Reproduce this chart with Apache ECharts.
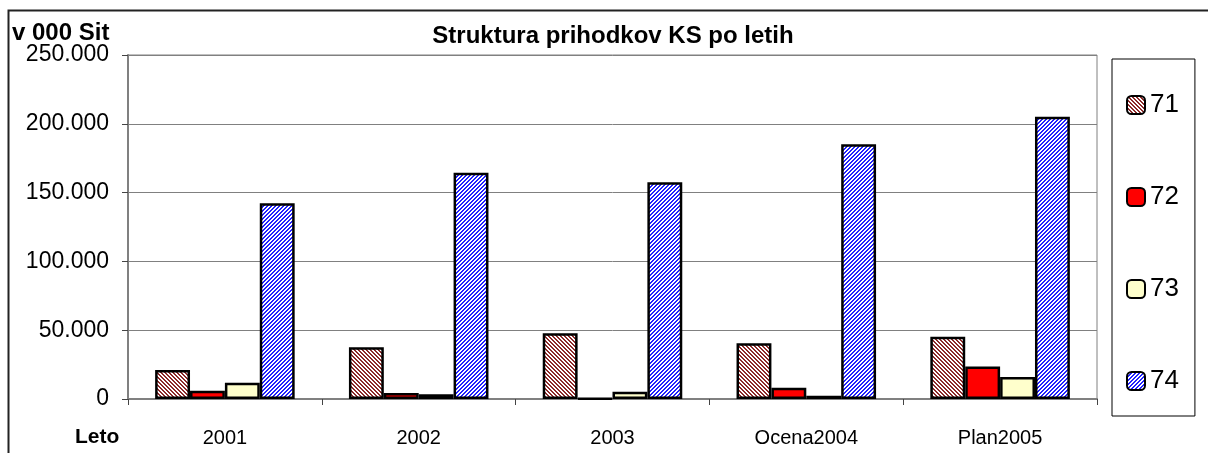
<!DOCTYPE html>
<html><head><meta charset="utf-8">
<script src="https://cdn.jsdelivr.net/npm/echarts@6/dist/echarts.min.js"></script>
<style>html,body{margin:0;padding:0;background:#fff}#c{width:1208px;height:453px}</style>
</head><body><div id="c"></div>
<script>
var categories = ['2001', '2002', '2003', 'Ocena2004', 'Plan2005'];
var seriesNames = ['71', '72', '73', '74'];
var s71 = [21000, 37600, 47700, 40500, 45300];
var s72 = [6000, 4400, 500, 8200, 23700];
var s73 = [11800, 3400, 5300, 2400, 16000];
var s74 = [142200, 164500, 157500, 185100, 205200];
var yTicks = [0, 50000, 100000, 150000, 200000, 250000];

function stripes(color, dir) {
  var c = document.createElement('canvas');
  c.width = 8; c.height = 8;
  var ctx = c.getContext('2d');
  ctx.fillStyle = '#ffffff'; ctx.fillRect(0, 0, 8, 8);
  ctx.fillStyle = color;
  for (var x = 0; x < 8; x++) for (var y = 0; y < 8; y++) {
    var k = dir > 0 ? (x + y) % 4 : ((x - y) % 4 + 4) % 4;
    if (k < 2) ctx.fillRect(x, y, 1, 1);
  }
  return { image: c, repeat: 'repeat' };
}
var fills = [stripes('#8c2a2a', -1), '#ff0000', '#ffffcc', stripes('#2222ff', 1)];
var data = [s71, s72, s73, s74];

function fmt(v) { return String(v).replace(/\B(?=(\d{3})+(?!\d))/g, '.'); }

var chart = echarts.init(document.getElementById('c'), null, { renderer: 'canvas' });
var font = '"Liberation Sans", Arial, sans-serif';
chart.setOption({
  animation: false,
  textStyle: { fontFamily: font },
  title: {
    text: 'Struktura prihodkov KS po letih', left: 608, top: 19, textAlign: 'center',
    textStyle: { fontFamily: font, fontWeight: 'bold', fontSize: 24, color: '#000' }
  },
  graphic: [
    { type: 'rect', shape: { x: 8.5, y: 10.5, width: 1300, height: 600 }, style: { fill: 'none', stroke: '#222', lineWidth: 2 }, silent: true },
    { type: 'text', left: 75, top: 427, style: { text: 'Leto', font: 'bold 21px ' + font, fill: '#000' } },
    { type: 'text', left: 12, top: 21, style: { text: 'v 000 Sit', font: 'bold 24px ' + font, fill: '#000' } }
  ],
  legend: {
    orient: 'vertical', left: 1112, top: 59,
    padding: [31, 16, 20, 14],
    borderColor: '#000', borderWidth: 1,
    itemWidth: 18, itemHeight: 18, itemGap: 62, itemTextGap: 12,
    textStyle: { fontSize: 26, color: '#000', fontFamily: font, lineHeight: 30 },
    data: seriesNames
  },
  grid: { left: 128, right: 111, top: 55, bottom: 54, show: true, borderColor: '#808080', borderWidth: 1, containLabel: false },
  xAxis: {
    type: 'category', data: categories,
    axisLine: { lineStyle: { color: '#808080', width: 2 } },
    axisTick: { show: true, length: 6, lineStyle: { color: '#444' } },
    axisLabel: { fontSize: 20, color: '#000', margin: 29, fontFamily: font }
  },
  yAxis: {
    type: 'value', min: 0, max: 250000, interval: 50000,
    axisLine: { show: true, lineStyle: { color: '#808080', width: 2 } },
    axisTick: { show: true, length: 6, lineStyle: { color: '#444' } },
    splitLine: { lineStyle: { color: '#808080', width: 1 } },
    axisLabel: { fontSize: 23, color: '#000', margin: 19, fontFamily: font, formatter: function (v) { return fmt(v); } }
  },
  series: seriesNames.map(function (n, i) {
    return {
      name: n, type: 'bar', data: data[i],
      barGap: '0%', barCategoryGap: '28%',
      itemStyle: { color: fills[i], borderColor: '#000', borderWidth: 2.5 }
    };
  })
});
</script></body></html>
